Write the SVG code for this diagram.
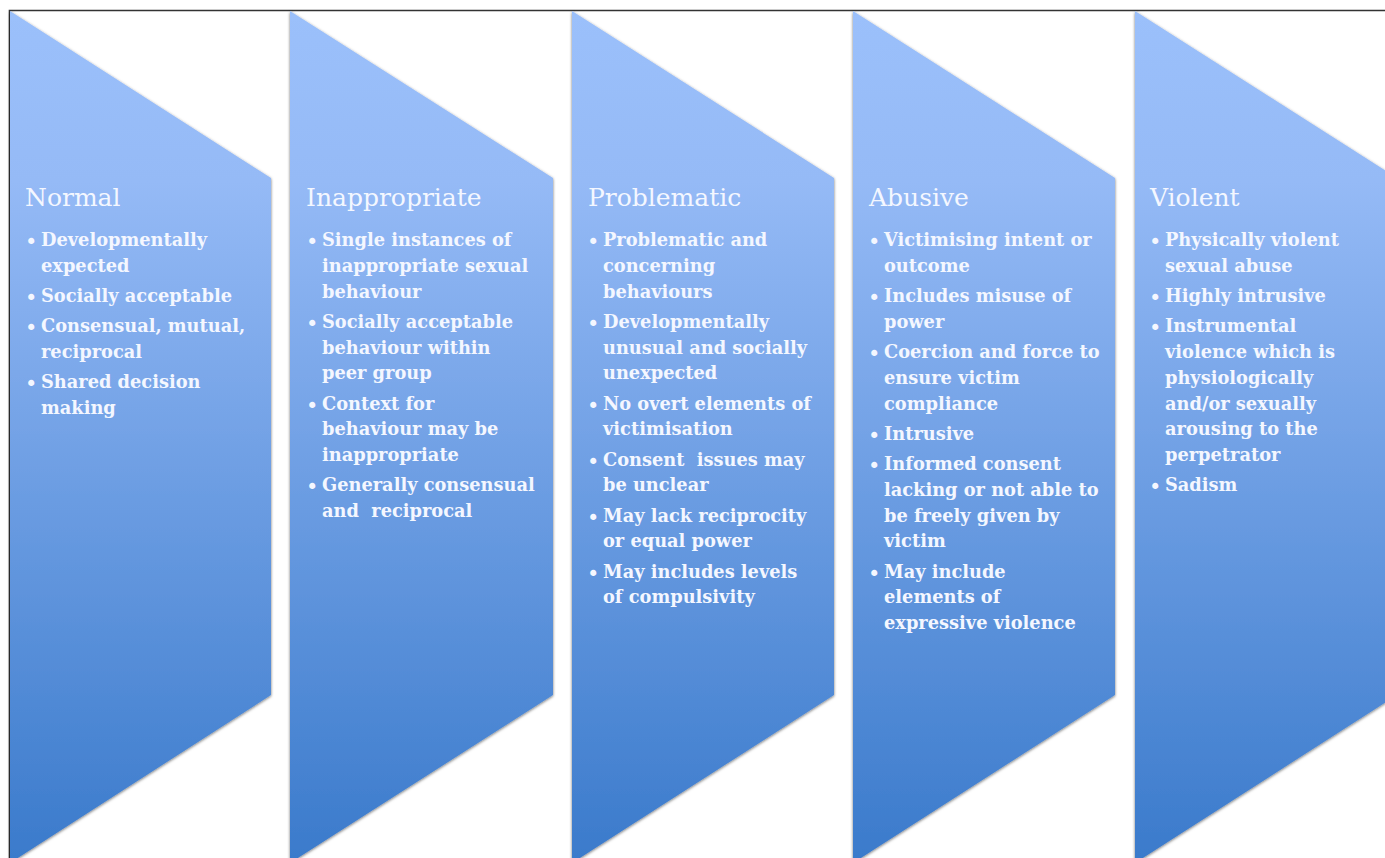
<svg xmlns="http://www.w3.org/2000/svg" width="1385" height="858" viewBox="0 0 1385 858">
<style>
.h{font-family:"DejaVu Serif","Liberation Serif",serif;font-size:25px;fill:#F4F7FF}
.t{font-family:"DejaVu Serif","Liberation Serif",serif;font-weight:bold;font-size:17.8px;fill:#F4F7FF}
.b{font-family:"DejaVu Sans",sans-serif;font-size:21px;fill:#F4F7FF}
.s{fill:url(#g);filter:url(#sh)}
</style>
<defs>
<linearGradient id="g" gradientUnits="userSpaceOnUse" x1="0" y1="11" x2="0" y2="863">
<stop offset="0" stop-color="#9BC0FB"/>
<stop offset="0.2" stop-color="#95BAF6"/>
<stop offset="1" stop-color="#3A7ACB"/>
</linearGradient>
<filter id="sh" x="-10%" y="-10%" width="120%" height="120%">
<feDropShadow dx="0" dy="1" stdDeviation="1.8" flood-color="#000" flood-opacity="0.55"/>
</filter>
</defs>
<rect width="1385" height="858" fill="#fff"/>
<path d="M9.5 858 V10.5 H1385" fill="none" stroke="#333" stroke-width="1.6"/>

<g id="normal">
<polygon class="s" points="10,11 271,178 271,695 10,863"/>
<text class="h" x="25" y="206">Normal</text>
<text class="b" x="25" y="249">•</text><text class="t" x="41" y="246">Developmentally</text>
<text class="t" x="41" y="271.8">expected</text>
<text class="b" x="25" y="305">•</text><text class="t" x="41" y="302">Socially acceptable</text>
<text class="b" x="25" y="335.2">•</text><text class="t" x="41" y="332.2">Consensual, mutual,</text>
<text class="t" x="41" y="358">reciprocal</text>
<text class="b" x="25" y="391.2">•</text><text class="t" x="41" y="388.2">Shared decision</text>
<text class="t" x="41" y="414">making</text>
</g>

<g id="inappropriate">
<polygon class="s" points="290,11 553,178 553,695 290,863"/>
<text class="h" x="306" y="206">Inappropriate</text>
<text class="b" x="306" y="249">•</text><text class="t" x="322" y="246">Single instances of</text>
<text class="t" x="322" y="271.8">inappropriate sexual</text>
<text class="t" x="322" y="297.6">behaviour</text>
<text class="b" x="306" y="330.8">•</text><text class="t" x="322" y="327.8">Socially acceptable</text>
<text class="t" x="322" y="353.6">behaviour within</text>
<text class="t" x="322" y="379.4">peer group</text>
<text class="b" x="306" y="412.6">•</text><text class="t" x="322" y="409.6">Context for</text>
<text class="t" x="322" y="435.4">behaviour may be</text>
<text class="t" x="322" y="461.2">inappropriate</text>
<text class="b" x="306" y="494.4">•</text><text class="t" x="322" y="491.4">Generally consensual</text>
<text class="t" x="322" y="517.2" xml:space="preserve">and  reciprocal</text>
</g>

<g id="problematic">
<polygon class="s" points="572,11 834,178 834,695 572,863"/>
<text class="h" x="588" y="206">Problematic</text>
<text class="b" x="587" y="249">•</text><text class="t" x="603" y="246">Problematic and</text>
<text class="t" x="603" y="271.8">concerning</text>
<text class="t" x="603" y="297.6">behaviours</text>
<text class="b" x="587" y="330.8">•</text><text class="t" x="603" y="327.8">Developmentally</text>
<text class="t" x="603" y="353.6">unusual and socially</text>
<text class="t" x="603" y="379.4">unexpected</text>
<text class="b" x="587" y="412.6">•</text><text class="t" x="603" y="409.6">No overt elements of</text>
<text class="t" x="603" y="435.4">victimisation</text>
<text class="b" x="587" y="468.6">•</text><text class="t" x="603" y="465.6" xml:space="preserve">Consent  issues may</text>
<text class="t" x="603" y="491.4">be unclear</text>
<text class="b" x="587" y="524.6">•</text><text class="t" x="603" y="521.6">May lack reciprocity</text>
<text class="t" x="603" y="547.4">or equal power</text>
<text class="b" x="587" y="580.6">•</text><text class="t" x="603" y="577.6">May includes levels</text>
<text class="t" x="603" y="603.4">of compulsivity</text>
</g>

<g id="abusive">
<polygon class="s" points="853,11 1115,178 1115,695 853,863"/>
<text class="h" x="869" y="206">Abusive</text>
<text class="b" x="868" y="249">•</text><text class="t" x="884" y="246">Victimising intent or</text>
<text class="t" x="884" y="271.8">outcome</text>
<text class="b" x="868" y="305">•</text><text class="t" x="884" y="302">Includes misuse of</text>
<text class="t" x="884" y="327.8">power</text>
<text class="b" x="868" y="361">•</text><text class="t" x="884" y="358">Coercion and force to</text>
<text class="t" x="884" y="383.8">ensure victim</text>
<text class="t" x="884" y="409.6">compliance</text>
<text class="b" x="868" y="442.8">•</text><text class="t" x="884" y="439.8">Intrusive</text>
<text class="b" x="868" y="473">•</text><text class="t" x="884" y="470">Informed consent</text>
<text class="t" x="884" y="495.8">lacking or not able to</text>
<text class="t" x="884" y="521.6">be freely given by</text>
<text class="t" x="884" y="547.4">victim</text>
<text class="b" x="868" y="580.6">•</text><text class="t" x="884" y="577.6">May include</text>
<text class="t" x="884" y="603.4">elements of</text>
<text class="t" x="884" y="629.2">expressive violence</text>
</g>

<g id="violent">
<polygon class="s" points="1135,11 1397,178 1397,695 1135,863"/>
<text class="h" x="1150" y="206">Violent</text>
<text class="b" x="1149" y="249">•</text><text class="t" x="1165" y="246">Physically violent</text>
<text class="t" x="1165" y="271.8">sexual abuse</text>
<text class="b" x="1149" y="305">•</text><text class="t" x="1165" y="302">Highly intrusive</text>
<text class="b" x="1149" y="335.2">•</text><text class="t" x="1165" y="332.2">Instrumental</text>
<text class="t" x="1165" y="358">violence which is</text>
<text class="t" x="1165" y="383.8">physiologically</text>
<text class="t" x="1165" y="409.6">and/or sexually</text>
<text class="t" x="1165" y="435.4">arousing to the</text>
<text class="t" x="1165" y="461.2">perpetrator</text>
<text class="b" x="1149" y="494.4">•</text><text class="t" x="1165" y="491.4">Sadism</text>
</g>

<g id="connectors"></g>
</svg>
